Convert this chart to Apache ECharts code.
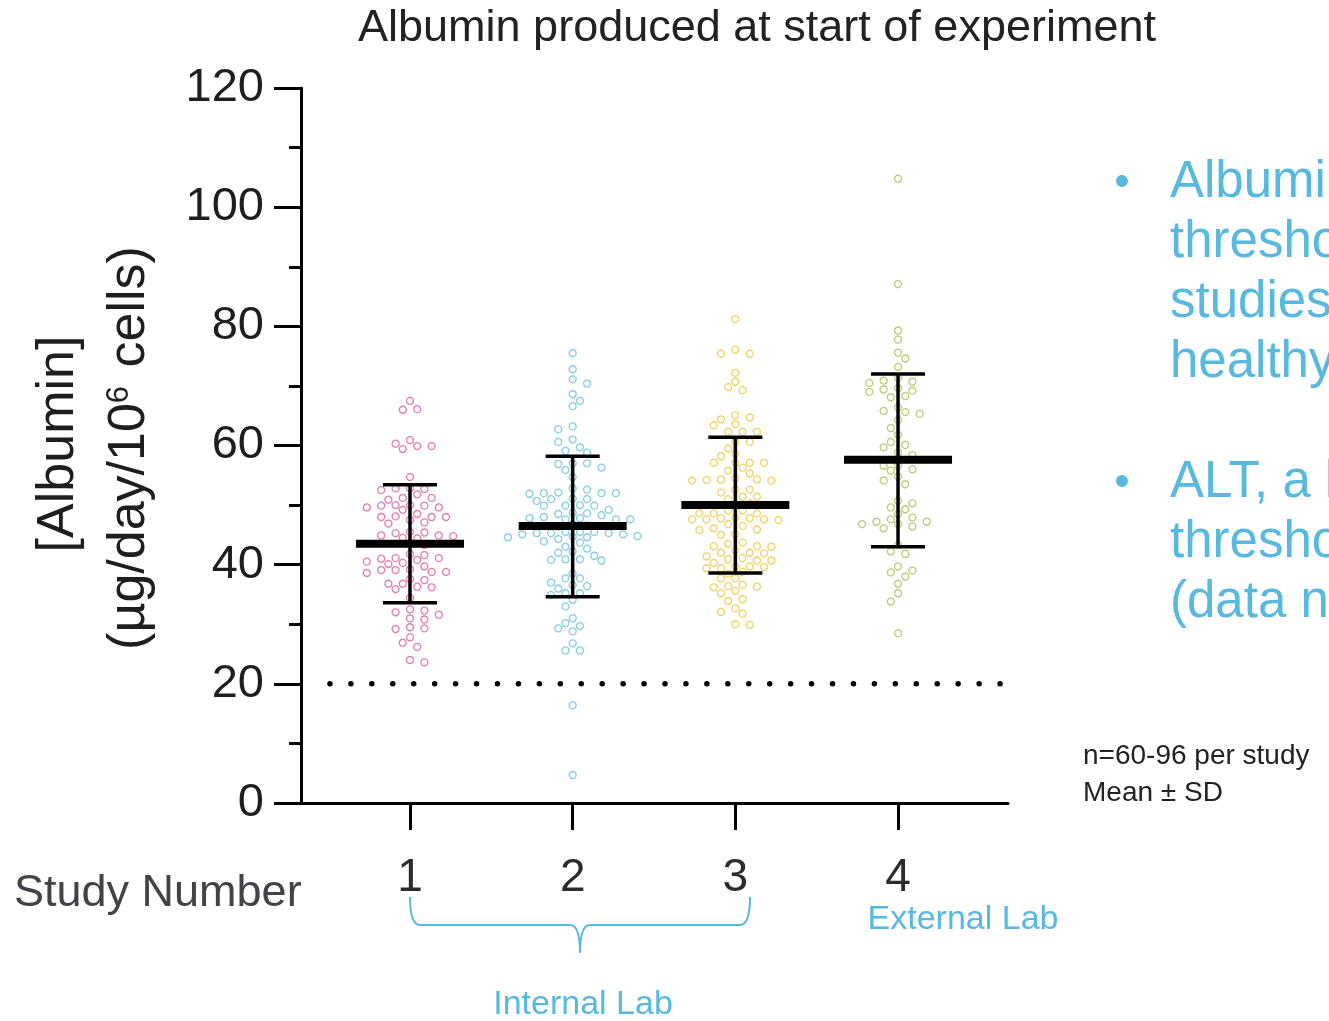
<!DOCTYPE html>
<html><head><meta charset="utf-8">
<script src="https://cdn.jsdelivr.net/npm/echarts@6/dist/echarts.min.js"></script>
<style>html,body{margin:0;padding:0;background:#fff}#chart{width:1329px;height:1021px}</style>
</head><body><div id="chart"></div>
<script>
// ---------- data ----------
const studies = [1, 2, 3, 4];
const studyLabels = ['1', '2', '3', '4'];
const study1 = [67.5, 66.0, 66.1, 60.9, 60.3, 59.9, 59.9, 59.4, 54.7, 52.8, 52.5, 52.7, 52.8, 51.8, 51.2, 51.2, 50.9,
  50.0, 49.2, 49.6, 49.6, 49.9, 50.0, 49.9, 48.5, 48.0, 48.0, 48.0, 48.1, 47.5, 47.1, 46.9, 45.5, 45.3, 44.5, 44.8,
  44.9, 45.4, 44.4, 44.9, 43.6, 43.3, 41.8, 41.6, 41.1, 40.8, 41.1, 40.5, 41.0, 40.3, 39.7, 40.1, 39.1, 38.8, 38.6,
  39.1, 38.8, 39.2, 36.8, 37.6, 37.4, 36.8, 35.9, 36.3, 36.2, 34.4, 32.3, 31.0, 32.0, 30.8, 31.6, 32.5, 29.3, 29.5,
  29.2, 27.8, 26.9, 26.2, 24.0, 23.6];
const study2 = [75.5, 72.8, 71.1, 70.4, 68.6, 67.5, 66.6, 63.2, 62.7, 61.0, 60.6, 59.7, 59.1, 58.8, 56.9, 57.0, 57.0,
  56.3, 55.9, 54.7, 52.8, 52.6, 52.0, 52.0, 52.0, 52.1, 51.9, 51.1, 51.0, 50.7, 51.0, 50.0, 49.9, 49.9, 49.9, 49.2,
  48.6, 48.7, 48.3, 48.5, 47.8, 47.6, 47.6, 47.6, 48.0, 47.8, 46.6, 46.4, 46.8, 45.5, 44.7, 45.3, 44.6, 44.8, 45.1,
  45.3, 45.1, 44.6, 44.3, 45.5, 45.3, 45.5, 43.9, 43.7, 43.0, 42.7, 42.2, 42.0, 41.5, 40.9, 40.9, 40.8, 40.7, 38.5,
  37.7, 37.7, 37.0, 36.6, 36.4, 36.0, 35.2, 34.9, 35.2, 34.1, 33.0, 31.0, 30.2, 29.7, 29.3, 28.8, 26.8, 25.6, 25.6,
  16.4, 4.7];
const study3 = [81.2, 76.1, 75.4, 75.4, 72.2, 70.7, 69.8, 69.3, 64.7, 65.1, 64.4, 63.4, 63.6, 62.3, 62.3, 62.3, 60.6,
  60.6, 59.5, 58.6, 58.2, 57.1, 57.1, 57.1, 57.1, 56.3, 55.8, 55.3, 54.3, 54.3, 54.1, 54.1, 54.5, 54.2, 52.6, 52.1,
  52.6, 51.4, 51.4, 51.0, 50.3, 49.9, 49.1, 48.6, 48.6, 49.1, 48.6, 47.8, 47.9, 47.8, 47.6, 47.5, 47.6, 47.6, 46.8,
  46.5, 46.1, 45.9, 45.8, 45.1, 45.0, 43.7, 43.5, 43.1, 43.0, 43.1, 42.4, 42.0, 41.9, 42.0, 41.4, 41.1, 40.9, 40.7,
  40.7, 40.3, 39.7, 39.4, 39.7, 39.4, 39.6, 38.8, 38.5, 37.7, 37.7, 36.6, 36.4, 36.2, 36.3, 35.6, 35.2, 34.2, 33.9,
  32.1, 32.7, 31.8, 29.9, 30.0];
const study4 = [104.8, 87.1, 79.3, 77.8, 75.6, 74.6, 73.2, 70.9, 70.7, 70.5, 71.3, 69.6, 69.4, 69.2, 69.0, 68.3, 68.1,
  66.4, 65.8, 65.3, 65.6, 64.3, 62.9, 61.8, 60.6, 60.1, 59.7, 58.8, 58.4, 56.6, 56.6, 55.8, 56.0, 54.8, 54.1, 53.5,
  50.7, 50.3, 49.6, 49.3, 48.5, 47.9, 47.2, 47.2, 47.6, 46.8, 46.8, 46.4, 46.1, 43.3, 41.8, 42.2, 39.7, 39.0, 38.7,
  38.0, 36.8, 35.2, 33.8, 28.5];
const means = [43.5, 46.5, 50.0, 57.6];
const sdLow = [33.6, 34.6, 38.6, 43.0];
const sdHigh = [53.4, 58.2, 61.4, 72.0];
const threshold = 20;
const yTickValues = [0, 20, 40, 60, 80, 100, 120];

// ---------- styling ----------
const colors = ['#db5c9f', '#66c0d8', '#ebc83e', '#a9bf55'];
const FONT = "'Liberation Sans', Arial, sans-serif";
const BLUE = '#57b8e0';
const X_MIN = 0.330, X_MAX = 4.676;
const PX_PER_X = 707 / (X_MAX - X_MIN);
const PX_PER_Y = 715 / 120;

// beeswarm layout (x offsets derived from values, so circles do not overlap)
function swarm(values, cx) {
  const sorted = values.slice().sort((a, b) => b - a);
  const placed = [], out = [];
  const step = 7.2, D = 8.5;
  sorted.forEach((v, idx) => {
    const py = v * PX_PER_Y;
    const pref = idx % 2 ? 1 : -1;
    let chosen = 0;
    for (let n = 0; n < 60; n++) {
      const cand = n === 0 ? 0 : (n % 2 ? pref : -pref) * Math.ceil(n / 2) * step;
      let ok = true;
      for (const p of placed) {
        const dy = p.py - py;
        if (Math.abs(dy) >= D) continue;
        const dx = p.px - cand;
        if (dx * dx + dy * dy < D * D) { ok = false; break; }
      }
      if (ok) { chosen = cand; break; }
    }
    placed.push({ px: chosen, py });
    out.push([cx + chosen / PX_PER_X, v]);
  });
  return out;
}

const allStudies = [study1, study2, study3, study4];
const scatterSeries = allStudies.map((vals, i) => ({
  type: 'scatter',
  name: 'Study ' + studyLabels[i],
  data: swarm(vals, studies[i]),
  symbol: 'circle',
  symbolSize: 7,
  itemStyle: { color: 'rgba(255,255,255,0)', borderColor: colors[i], borderWidth: 1.3 },
  silent: true,
  z: 3
}));

const braceStyle = { stroke: BLUE, lineWidth: 2, fill: null };

const chart = echarts.init(document.getElementById('chart'), null, { renderer: 'canvas' });
chart.setOption({
  animation: false,
  backgroundColor: '#fff',
  grid: { left: 301, right: 321, top: 88, bottom: 218 },
  xAxis: {
    type: 'value', min: X_MIN, max: X_MAX,
    axisLine: { show: true, lineStyle: { color: '#000', width: 3 } },
    axisTick: { show: true, customValues: studies, length: 27, lineStyle: { color: '#000', width: 3 } },
    axisLabel: { customValues: studies, formatter: v => studyLabels[studies.indexOf(v)] || '', fontSize: 46, color: '#2b2b2b', margin: 52, fontFamily: FONT },
    splitLine: { show: false }
  },
  yAxis: {
    type: 'value', min: 0, max: 120, interval: 20,
    axisLine: { show: true, lineStyle: { color: '#000', width: 3 } },
    axisTick: { show: true, length: 27, lineStyle: { color: '#000', width: 3 } },
    minorTick: { show: true, splitNumber: 2, length: 12, lineStyle: { color: '#000', width: 3 } },
    axisLabel: { fontSize: 47, color: '#1e1e1e', margin: 37, fontFamily: FONT, formatter: v => yTickValues.includes(v) ? String(v) : '' },
    splitLine: { show: false }
  },
  series: [
    {
      type: 'line', data: [[0.508, threshold], [4.63, threshold]], showSymbol: false, silent: true,
      lineStyle: { color: '#000', width: 5.5, type: [0.01, 20.93], cap: 'round' }, z: 2
    },
    ...scatterSeries,
    {
      type: 'custom', silent: true, z: 10,
      encode: { x: 0, y: [1, 2, 3] },
      data: studies.map((s, i) => [s, means[i], sdLow[i], sdHigh[i]]),
      renderItem: (params, api) => {
        const x = api.value(0);
        const pm = api.coord([x, api.value(1)]);
        const pl = api.coord([x, api.value(2)]);
        const ph = api.coord([x, api.value(3)]);
        const st = { stroke: '#000', lineWidth: 3.5 };
        return {
          type: 'group', children: [
            { type: 'line', shape: { x1: pm[0], y1: ph[1], x2: pm[0], y2: pl[1] }, style: st },
            { type: 'line', shape: { x1: pm[0] - 27, y1: ph[1], x2: pm[0] + 27, y2: ph[1] }, style: st },
            { type: 'line', shape: { x1: pm[0] - 27, y1: pl[1], x2: pm[0] + 27, y2: pl[1] }, style: st },
            { type: 'line', shape: { x1: pm[0] - 54, y1: pm[1], x2: pm[0] + 54, y2: pm[1] }, style: { stroke: '#000', lineWidth: 8 } }
          ]
        };
      }
    }
  ],
  graphic: [
    { type: 'text', x: 757, y: 29, style: { text: 'Albumin produced at start of experiment', font: '45px ' + FONT, fill: '#222', align: 'center', verticalAlign: 'middle' } },
    { type: 'text', x: 59, y: 444, rotation: Math.PI / 2, style: { text: '[Albumin]', font: '52px ' + FONT, fill: '#1e1e1e', align: 'center', verticalAlign: 'middle' } },
    { type: 'text', x: 130, y: 448, rotation: Math.PI / 2, style: {
        text: '(µg/day/10{sup|6} cells)', font: '52px ' + FONT, fill: '#1e1e1e', align: 'center', verticalAlign: 'middle',
        rich: { sup: { fontSize: 31, verticalAlign: 'top', fontFamily: FONT, fill: '#1e1e1e', padding: [0, 4, 0, 0] } }
      } },
    { type: 'text', x: 14, y: 894, style: { text: 'Study Number', font: '45px ' + FONT, fill: '#404448', align: 'left', verticalAlign: 'middle' } },
    { type: 'text', x: 1122, y: 184, style: { text: '•', font: '44px ' + FONT, fill: BLUE, align: 'center', verticalAlign: 'middle' } },
    { type: 'text', x: 1170, y: 153, style: { text: 'Albumin above\nthreshold in all\nstudies, indicating\nhealthy hepatocytes', font: '51px ' + FONT, lineHeight: 60, fill: BLUE, align: 'left', verticalAlign: 'top' } },
    { type: 'text', x: 1122, y: 484, style: { text: '•', font: '44px ' + FONT, fill: BLUE, align: 'center', verticalAlign: 'middle' } },
    { type: 'text', x: 1170, y: 453, style: { text: 'ALT, a liver injury marker, below\nthreshold in all studies\n(data not shown)', font: '51px ' + FONT, lineHeight: 60, fill: BLUE, align: 'left', verticalAlign: 'top' } },
    { type: 'text', x: 1083, y: 756, style: { text: 'n=60-96 per study', font: '28px ' + FONT, fill: '#222', align: 'left', verticalAlign: 'middle' } },
    { type: 'text', x: 1083, y: 793, style: { text: 'Mean ± SD', font: '28px ' + FONT, fill: '#222', align: 'left', verticalAlign: 'middle' } },
    { type: 'group', children: [
      { type: 'bezierCurve', shape: { x1: 410, y1: 897, cpx1: 410, cpy1: 925, x2: 420, y2: 925 }, style: braceStyle },
      { type: 'line', shape: { x1: 420, y1: 925, x2: 570, y2: 925 }, style: braceStyle },
      { type: 'bezierCurve', shape: { x1: 570, y1: 925, cpx1: 580, cpy1: 925, x2: 580, y2: 953 }, style: braceStyle },
      { type: 'bezierCurve', shape: { x1: 580, y1: 953, cpx1: 580, cpy1: 925, x2: 590, y2: 925 }, style: braceStyle },
      { type: 'line', shape: { x1: 590, y1: 925, x2: 740, y2: 925 }, style: braceStyle },
      { type: 'bezierCurve', shape: { x1: 740, y1: 925, cpx1: 750, cpy1: 925, x2: 750, y2: 897 }, style: braceStyle }
    ] },
    { type: 'text', x: 963, y: 920, style: { text: 'External Lab', font: '34px ' + FONT, fill: BLUE, align: 'center', verticalAlign: 'middle' } },
    { type: 'text', x: 583, y: 1005, style: { text: 'Internal Lab', font: '34px ' + FONT, fill: BLUE, align: 'center', verticalAlign: 'middle' } }
  ]
});
</script></body></html>
